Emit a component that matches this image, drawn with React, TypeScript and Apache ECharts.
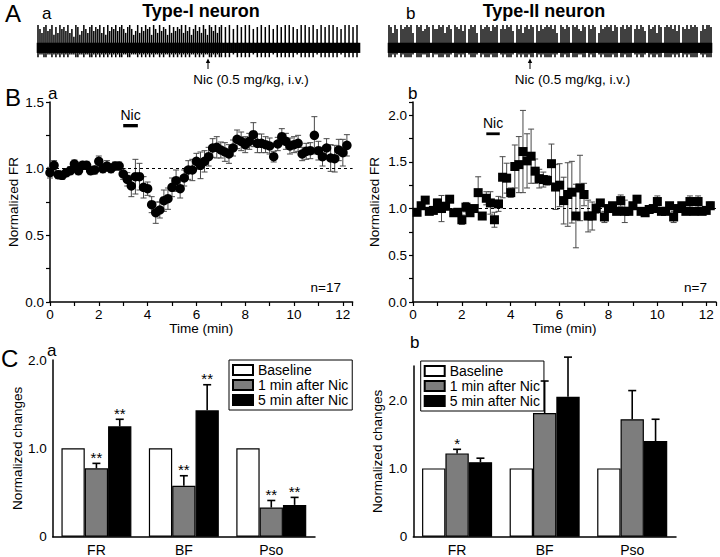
import React, { useEffect, useRef } from "react";
import * as echarts from "echarts";

const FONT = "'Liberation Sans', Arial, Helvetica, sans-serif";

// Panel A: spike-train traces, one digit per 2-px column (peak height: 0 = none, 9 = tallest)
const traceTypeI =
  "9758967948" + "5978695739" + "8469758968" + "7958496879" + "6897589746" +
  "9586978497" + "5968749586" + "8795968479" + "6859749869" + "58" +
  "9080907090" + "8090907080" + "9080907090" + "8090908070" + "9090809070" +
  "9080909080" + "7090908090";
const traceTypeII =
  "9859709789" + "8950989679" + "8097798958" + "9709879690" + "7989509789" +
  "8698907979" + "8960979589" + "7980969789" + "8979509879" + "8098976980" +
  "9798059789" + "8969808979" + "8907979860" + "9789598089" + "8979690879" +
  "7989806979" + "98";

// Panel B: normalized firing rate in 10-s bins
const binMinutes = 1 / 6;
const typeIFirstBin = 0;
const typeIIFirstBin = 1;
const typeIFR = [
  0.97, 1.025, 0.955, 0.95, 0.97, 0.985, 1.035, 0.985, 1.025, 1.025,
  0.985, 0.99, 1.055, 1.0, 1.02, 1.0, 1.02, 1.02, 0.96, 0.92,
  0.87, 0.94, 0.94, 0.86, 0.85, 0.73, 0.67, 0.69, 0.76, 0.775,
  0.86, 0.91, 0.85, 0.93, 0.99, 0.99, 1.055, 1.025, 1.055, 1.09,
  1.155, 1.16, 1.14, 1.125, 1.11, 1.155, 1.22, 1.205, 1.18, 1.205,
  1.255, 1.19, 1.19, 1.18, 1.17, 1.09, 1.185, 1.24, 1.205, 1.17,
  1.18, 1.19, 1.11, 1.13, 1.135, 1.25, 1.135, 1.09, 1.155, 1.08,
  1.075, 1.14, 1.12, 1.175,
];
const typeIErr = [
  0.04, 0.035, 0.03, 0.03, 0.03, 0.03, 0.03, 0.03, 0.03, 0.03,
  0.03, 0.03, 0.04, 0.03, 0.04, 0.03, 0.03, 0.03, 0.04, 0.05,
  0.08, 0.13, 0.1, 0.08, 0.05, 0.06, 0.08, 0.06, 0.08, 0.08,
  0.07, 0.08, 0.07, 0.06, 0.07, 0.08, 0.06, 0.1, 0.08, 0.07,
  0.07, 0.08, 0.06, 0.07, 0.07, 0.06, 0.07, 0.07, 0.06, 0.06,
  0.09, 0.07, 0.07, 0.06, 0.06, 0.04, 0.05, 0.06, 0.06, 0.06,
  0.06, 0.06, 0.05, 0.06, 0.06, 0.14, 0.07, 0.07, 0.07, 0.1,
  0.1, 0.08, 0.1, 0.08,
];
const typeIIFR = [
  0.96, 1.03, 1.09, 0.97, 0.98, 1.06, 1.0, 1.025, 1.1, 0.955,
  0.96, 0.88, 1.015, 0.955, 1.0, 1.17, 0.92, 1.11, 1.06, 0.88,
  1.05, 1.335, 1.325, 1.17, 1.45, 1.47, 1.61, 1.51, 1.56, 1.4,
  1.32, 1.31, 1.3, 1.48, 1.23, 1.25, 1.085, 1.15, 1.175, 0.92,
  1.22, 1.15, 0.92, 0.92, 1.0, 1.06, 0.91, 1.0, 1.03, 0.97,
  1.085, 0.97, 0.97, 1.03, 1.1, 0.97, 0.955, 0.99, 1.0, 1.075,
  0.97, 0.97, 1.03, 0.91, 1.0, 1.03, 0.97, 1.075, 0.97, 1.075,
  0.97, 0.98, 1.03,
];
const typeIIErr = [
  0.03, 0.03, 0.03, 0.02, 0.02, 0.04, 0.14, 0.04, 0.03, 0.03,
  0.03, 0.05, 0.05, 0.04, 0.03, 0.17, 0.03, 0.07, 0.12, 0.08,
  0.08, 0.22, 0.16, 0.05, 0.23, 0.3, 0.44, 0.29, 0.29, 0.13,
  0.1, 0.08, 0.05, 0.21, 0.24, 0.23, 0.25, 0.34, 0.33, 0.34,
  0.35, 0.12, 0.17, 0.15, 0.05, 0.03, 0.06, 0.03, 0.03, 0.03,
  0.06, 0.12, 0.03, 0.03, 0.04, 0.03, 0.03, 0.03, 0.03, 0.06,
  0.03, 0.03, 0.03, 0.06, 0.03, 0.03, 0.03, 0.06, 0.03, 0.06,
  0.03, 0.03, 0.04,
];
const nicWindowI = [3.0, 3.6];
const nicWindowII = [3.0, 3.55];

// Panel C
const cCategories = ["FR", "BF", "Pso"];
const legendNames = ["Baseline", "1 min after Nic", "5 min after Nic"];
const caBaseline = [1, 1, 1];
const caOneMin = [0.774, 0.577, 0.33];
const caFiveMin = [1.249, 1.43, 0.36];
const caOneMinErr = [0.056, 0.113, 0.08];
const caFiveMinErr = [0.08, 0.29, 0.085];
const caOneMinSig = ["**", "**", "**"];
const caFiveMinSig = ["**", "**", "**"];
const cbBaseline = [1, 1, 1];
const cbOneMin = [1.22, 1.81, 1.72];
const cbFiveMin = [1.09, 2.05, 1.4];
const cbOneMinErr = [0.06, 0.47, 0.42];
const cbFiveMinErr = [0.06, 0.58, 0.32];
const cbOneMinSig = ["*", "", ""];
const cbFiveMinSig = ["", "", ""];

const BLACK = "#000";
const GRAY = "#7d7d7d";

function traceRender(params: any, api: any) {
  const i = api.value(0);
  const d = api.value(1);
  const a = api.coord([i, 3]);
  const b = api.coord([i + 1, -1]);
  const children: any[] = [
    {
      type: "rect",
      shape: { x: a[0] - 0.3, y: a[1], width: b[0] - a[0] + 0.6, height: b[1] - a[1] },
      style: { fill: BLACK },
    },
  ];
  if (d > 0) {
    const top = api.coord([i + 0.5, 3 + (d * 7) / 9]);
    const bot = api.coord([i + 0.5, d >= 8 ? -2.7 : -1.6]);
    children.push({
      type: "line",
      shape: { x1: top[0], y1: top[1], x2: top[0], y2: bot[1] },
      style: { stroke: BLACK, lineWidth: 1.5 },
    });
  }
  return { type: "group", children };
}

function errRender(params: any, api: any) {
  const x = api.value(0);
  const y = api.value(1);
  const e = api.value(2);
  const t = api.coord([x, y + e]);
  const b = api.coord([x, y - e]);
  const st = { stroke: "#4a4a4a", lineWidth: 1 };
  const cap = 3;
  return {
    type: "group",
    children: [
      { type: "line", shape: { x1: t[0], y1: t[1], x2: b[0], y2: b[1] }, style: st },
      { type: "line", shape: { x1: t[0] - cap, y1: t[1], x2: t[0] + cap, y2: t[1] }, style: st },
      { type: "line", shape: { x1: b[0] - cap, y1: b[1], x2: b[0] + cap, y2: b[1] }, style: st },
    ],
  };
}

function barErrRender(vals: number[], errs: number[], sigs: string[], slot: number) {
  return (params: any, api: any) => {
    const ci = params.dataIndex;
    const v = vals[ci];
    const e = errs[ci];
    const c = api.coord([ci, v]);
    const bw = (api.size([1, 0])[0] * 0.8) / 3;
    const x = c[0] + (slot - 1) * bw;
    const top = api.coord([ci, v + e])[1];
    const st = { stroke: BLACK, lineWidth: 1.6 };
    const children: any[] = [
      { type: "line", shape: { x1: x, y1: c[1], x2: x, y2: top }, style: st },
      { type: "line", shape: { x1: x - 4, y1: top, x2: x + 4, y2: top }, style: st },
    ];
    if (sigs[ci]) {
      children.push({
        type: "text",
        x,
        y: top - 6,
        style: {
          text: sigs[ci],
          align: "center",
          verticalAlign: "middle",
          fontSize: 15,
          fontFamily: FONT,
          fill: BLACK,
        },
      });
    }
    return { type: "group", children };
  };
}

const txt = (text: string, x: number, y: number, size: number, opts: any = {}) => ({
  type: "text",
  x,
  y,
  silent: true,
  style: {
    text,
    fontSize: size,
    fontFamily: FONT,
    fill: BLACK,
    align: opts.align || "left",
    verticalAlign: "middle",
    fontWeight: opts.bold ? "bold" : "normal",
  },
});

const arrow = (x: number) => [
  { type: "line", shape: { x1: x, y1: 69, x2: x, y2: 61 }, style: { stroke: BLACK, lineWidth: 1 } },
  { type: "polygon", shape: { points: [[x - 2.2, 63], [x, 58.5], [x + 2.2, 63]] }, style: { fill: BLACK } },
];

const axisLine = { lineStyle: { color: BLACK, width: 1.5 } };
const axisTick = { inside: false, length: 4, lineStyle: { color: BLACK, width: 1.2 } };
const axisLabel = (formatter: any, margin = 6, size = 13.5) => ({
  color: BLACK,
  fontSize: size,
  fontFamily: FONT,
  margin,
  formatter,
});
const timeFmt = (v: number) =>
  Math.abs(v / 2 - Math.round(v / 2)) < 1e-6 && v <= 12 ? String(Math.round(v)) : "";
const frFmt = (v: number) =>
  Math.abs(v * 2 - Math.round(v * 2)) < 1e-6 ? v.toFixed(1) : "";
const cFmt = (v: number) =>
  Math.abs(v) < 1e-9 ? "0" : Math.abs(v - Math.round(v)) < 1e-6 ? v.toFixed(1) : "";

function buildOption() {
  const ptsI = typeIFR.map((v, i) => [(i + typeIFirstBin) * binMinutes, v]);
  const errI = typeIFR.map((v, i) => [(i + typeIFirstBin) * binMinutes, v, typeIErr[i] ?? 0.05]);
  const ptsII = typeIIFR.map((v, i) => [(i + typeIIFirstBin) * binMinutes, v]);
  const errII = typeIIFR.map((v, i) => [(i + typeIIFirstBin) * binMinutes, v, typeIIErr[i] ?? 0.05]);
  const trI = traceTypeI.split("").map((c, i) => [i, Number(c)]);
  const trII = traceTypeII.split("").map((c, i) => [i, Number(c)]);

  const nameStyle = { color: BLACK, fontSize: 13.5, fontFamily: FONT };
  const timeAxis = (gridIndex: number) => ({
    type: "value",
    gridIndex,
    min: 0,
    max: 12.4,
    interval: 1,
    axisLine,
    axisTick,
    splitLine: { show: false },
    axisLabel: axisLabel(timeFmt, 5),
    name: "Time (min)",
    nameLocation: "middle",
    nameGap: 19,
    nameTextStyle: nameStyle,
  });
  const frAxis = (gridIndex: number, max: number, nameGap: number) => ({
    type: "value",
    gridIndex,
    min: 0,
    max,
    interval: 0.25,
    axisLine: { show: true, ...axisLine },
    axisTick,
    splitLine: { show: false },
    axisLabel: axisLabel(frFmt, 6),
    name: "Normalized FR",
    nameLocation: "middle",
    nameRotate: 90,
    nameGap,
    nameTextStyle: nameStyle,
  });
  const catAxis = (gridIndex: number) => ({
    type: "category",
    gridIndex,
    data: cCategories,
    axisLine,
    axisTick: { show: false },
    axisLabel: axisLabel(null, 6, 14),
  });
  const chAxis = (gridIndex: number, max: number, interval: number, nameGap: number) => ({
    type: "value",
    gridIndex,
    min: 0,
    max,
    interval,
    axisLine: { show: true, ...axisLine },
    axisTick,
    splitLine: { show: false },
    axisLabel: axisLabel(cFmt, 6),
    name: "Normalized changes",
    nameLocation: "middle",
    nameRotate: 90,
    nameGap,
    nameTextStyle: nameStyle,
  });
  const hidden = (gridIndex: number, min: number, max: number) => ({
    type: "value",
    gridIndex,
    min,
    max,
    show: false,
    splitLine: { show: false },
  });

  const dashed = {
    silent: true,
    symbol: ["none", "none"],
    label: { show: false },
    lineStyle: { color: BLACK, width: 1, type: [3, 3] },
    data: [{ yAxis: 1 }],
  };
  const nicArea = (x0: number, x1: number, y0: number, y1: number) => ({
    silent: true,
    itemStyle: { color: BLACK },
    label: { show: true, position: "top", distance: 2, formatter: "Nic", color: BLACK, fontSize: 14, fontFamily: FONT },
    data: [[{ xAxis: x0, yAxis: y0 }, { xAxis: x1, yAxis: y1 }]],
  });

  const barStyles = [
    { color: "#fff", borderColor: BLACK, borderWidth: 1.2 },
    { color: GRAY, borderColor: BLACK, borderWidth: 1.2 },
    { color: BLACK, borderColor: BLACK, borderWidth: 1.2 },
  ];
  const bars = (idx: number, sets: number[][]) =>
    sets.map((vals, k) => ({
      type: "bar",
      name: legendNames[k],
      xAxisIndex: idx,
      yAxisIndex: idx,
      data: vals,
      barGap: "0%",
      barCategoryGap: "20%",
      itemStyle: barStyles[k],
      emphasis: { disabled: true },
    }));
  const legend = (left: number, top: number) => ({
    data: legendNames,
    left,
    top,
    orient: "vertical",
    icon: "rect",
    itemWidth: 20,
    itemHeight: 10,
    itemGap: 1,
    padding: [3, 4, 3, 3],
    borderColor: BLACK,
    borderWidth: 1,
    selectedMode: false,
    textStyle: { color: BLACK, fontSize: 14, fontFamily: FONT, lineHeight: 14 },
  });

  return {
    animation: false,
    textStyle: { fontFamily: FONT },
    grid: [
      { left: 37, top: 25, width: 323, height: 33 },
      { left: 388, top: 25, width: 324, height: 33 },
      { left: 50, top: 102, width: 302.6, height: 200 },
      { left: 413, top: 102, width: 303, height: 200 },
      { left: 52.7, top: 360, width: 262.3, height: 176.7 },
      { left: 413.3, top: 366, width: 262.7, height: 170.7 },
    ],
    xAxis: [
      hidden(0, 0, traceTypeI.length),
      hidden(1, 0, traceTypeII.length),
      timeAxis(2),
      timeAxis(3),
      catAxis(4),
      catAxis(5),
    ],
    yAxis: [
      hidden(0, -3, 10),
      hidden(1, -3, 10),
      frAxis(2, 1.5, 30),
      frAxis(3, 2.14, 32),
      chAxis(4, 2, 0.5, 28),
      chAxis(5, 2.5, 0.25, 28),
    ],
    legend: [legend(229, 360), legend(420.7, 361)],
    series: [
      { type: "custom", xAxisIndex: 0, yAxisIndex: 0, renderItem: traceRender, data: trI, encode: { x: 0, y: 1 }, silent: true },
      { type: "custom", xAxisIndex: 1, yAxisIndex: 1, renderItem: traceRender, data: trII, encode: { x: 0, y: 1 }, silent: true },
      { type: "custom", xAxisIndex: 2, yAxisIndex: 2, renderItem: errRender, data: errI, encode: { x: 0, y: 1 }, silent: true },
      {
        type: "scatter",
        xAxisIndex: 2,
        yAxisIndex: 2,
        data: ptsI,
        symbol: "circle",
        symbolSize: 9.5,
        itemStyle: { color: BLACK, opacity: 1 },
        markLine: dashed,
        markArea: nicArea(nicWindowI[0], nicWindowI[1], 1.31, 1.335),
        silent: true,
        z: 3,
      },
      { type: "custom", xAxisIndex: 3, yAxisIndex: 3, renderItem: errRender, data: errII, encode: { x: 0, y: 1 }, silent: true },
      {
        type: "scatter",
        xAxisIndex: 3,
        yAxisIndex: 3,
        data: ptsII,
        symbol: "rect",
        symbolSize: 9,
        itemStyle: { color: BLACK, opacity: 1 },
        markLine: dashed,
        markArea: nicArea(nicWindowII[0], nicWindowII[1], 1.785, 1.815),
        silent: true,
        z: 3,
      },
      ...bars(4, [caBaseline, caOneMin, caFiveMin]),
      { type: "custom", xAxisIndex: 4, yAxisIndex: 4, renderItem: barErrRender(caOneMin, caOneMinErr, caOneMinSig, 1), data: caOneMin.map((v, i) => [i, v]), silent: true, z: 4 },
      { type: "custom", xAxisIndex: 4, yAxisIndex: 4, renderItem: barErrRender(caFiveMin, caFiveMinErr, caFiveMinSig, 2), data: caFiveMin.map((v, i) => [i, v]), silent: true, z: 4 },
      ...bars(5, [cbBaseline, cbOneMin, cbFiveMin]),
      { type: "custom", xAxisIndex: 5, yAxisIndex: 5, renderItem: barErrRender(cbOneMin, cbOneMinErr, cbOneMinSig, 1), data: cbOneMin.map((v, i) => [i, v]), silent: true, z: 4 },
      { type: "custom", xAxisIndex: 5, yAxisIndex: 5, renderItem: barErrRender(cbFiveMin, cbFiveMinErr, cbFiveMinSig, 2), data: cbFiveMin.map((v, i) => [i, v]), silent: true, z: 4 },
    ],
    graphic: [
      txt("A", 5, 13, 24),
      txt("a", 42, 13.5, 17),
      txt("Type-I neuron", 201, 11, 18, { align: "center", bold: true }),
      txt("b", 406, 13.5, 17),
      txt("Type-II neuron", 544, 11, 18, { align: "center", bold: true }),
      ...arrow(208),
      ...arrow(530),
      txt("Nic (0.5 mg/kg, i.v.)", 251, 79, 13.5, { align: "center" }),
      txt("Nic (0.5 mg/kg, i.v.)", 572.5, 79, 13.5, { align: "center" }),
      txt("B", 5, 97, 24),
      txt("a", 48, 93, 17),
      txt("b", 408, 93, 17),
      txt("n=17", 341, 287, 13.5, { align: "right" }),
      txt("n=7", 707, 287, 13.5, { align: "right" }),
      txt("C", 1, 358, 24),
      txt("a", 47, 350.5, 17),
      txt("b", 410, 342, 17),
    ],
  };
}

export default function App() {
  const ref = useRef<HTMLDivElement>(null);
  useEffect(() => {
    const chart = echarts.init(ref.current!, null, { renderer: "svg" });
    chart.setOption(buildOption() as any);
    return () => chart.dispose();
  }, []);
  return (
    <div
      ref={ref}
      style={{ position: "fixed", left: 0, top: 0, width: 720, height: 557, background: "#fff" }}
    />
  );
}
